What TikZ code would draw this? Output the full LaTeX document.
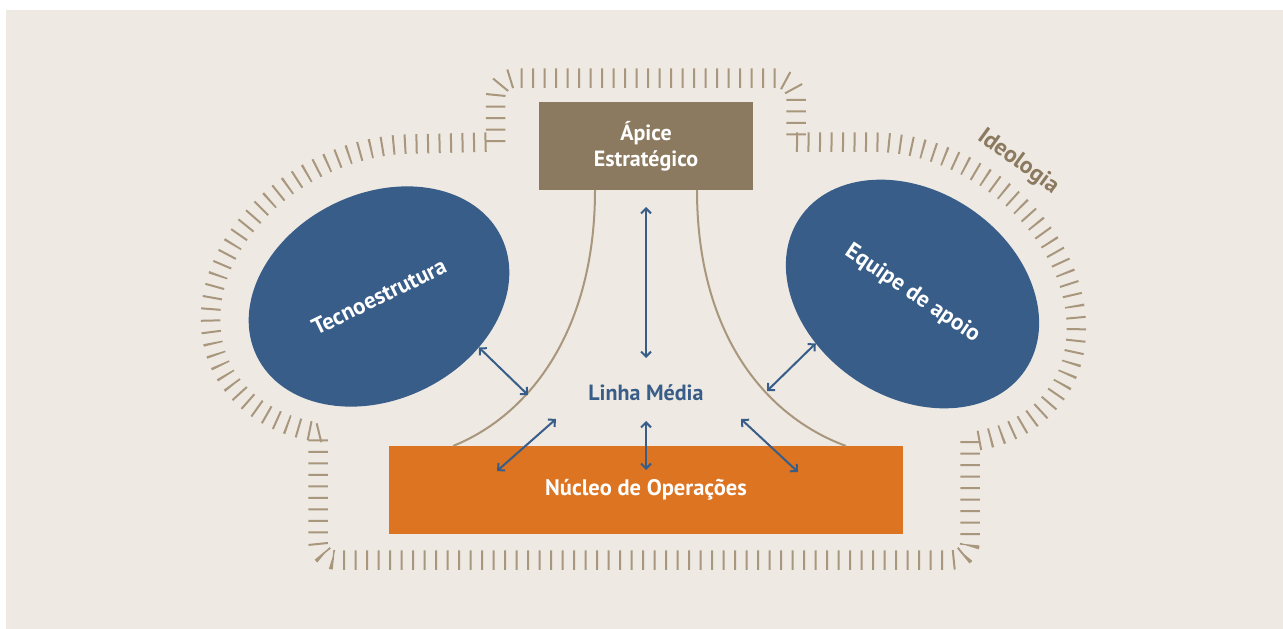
\documentclass[tikz,border=0pt]{standalone}
\usepackage{fontspec}
\setmainfont{PT Sans}
\usetikzlibrary{shapes.geometric,arrows.meta}

\definecolor{bgbeige}{HTML}{EEE9E3}
\definecolor{apicebrown}{HTML}{8B7A5F}
\definecolor{ideobrown}{HTML}{A8977D}
\definecolor{midblue}{HTML}{375D88}
\definecolor{opsorange}{HTML}{DD7421}

\tikzset{
	partbox/.style={rectangle, minimum width=#1, minimum height=88pt, inner sep=0pt, outer sep=0pt, text=white, align=center, font=\bfseries\fontsize{22}{26}\selectfont},
	partoval/.style={ellipse, fill=midblue, minimum width=272pt, minimum height=206pt, inner sep=0pt, outer sep=0pt, text=white, font=\bfseries\fontsize{23}{26}\selectfont},
	flow/.style={midblue, line width=2pt, {Straight Barb[length=5pt,width=10pt]}-{Straight Barb[length=5pt,width=10pt]}},
	rim/.style={ideobrown, line width=2pt},
	ideoband/.style={ideobrown, line width=19.5pt, dash pattern=on 2pt off 9.5pt},
}

\begin{document}
\begin{tikzpicture}[x=1pt,y=-1pt]
	\def\ra{176}	%long half axis of the ideology arcs
	\def\rb{136}	%short half axis of the ideology arcs
	\useasboundingbox (0,0) rectangle (1283,629);
	\fill[bgbeige] (6,10) rectangle (1283,629);

	%ideology band: thick dashed line gives the ticks
	\draw[ideoband, rounded corners=20pt] (495.5,142) -- (495.5,78) -- (796,78) -- (796,142);
	\draw[ideoband] (796,142) -- plot[domain=-132.2:41, samples=70, variable=\s]
		({912.5+\ra*cos(\s)*cos(35)-\rb*sin(\s)*sin(35)}, {292.5+\ra*cos(\s)*sin(35)+\rb*sin(\s)*cos(35)});	%round the support staff
	\draw[ideoband, rounded corners=18pt] (970,441) -- (970,560) -- (318,560) -- (318,433);
	\draw[ideoband] (318,433) -- plot[domain=-228:-56.6, samples=70, variable=\s]
		({379+\ra*cos(\s)*cos(27)+\rb*sin(\s)*sin(27)}, {289-\ra*cos(\s)*sin(27)+\rb*sin(\s)*cos(27)}) -- (495.5,142);	%round the technostructure

	\node[partbox=214pt, fill=apicebrown] (apice) at (646,146) {Ápice\\Estratégico};
	\node[partbox=514pt, fill=opsorange, font=\bfseries\fontsize{22.5}{26}\selectfont] (nucleo) at (646,490) {Núcleo de Operações};

	%middle line edges
	\draw[rim] ([xshift=-51pt]apice.south) .. controls +(0,140) and +(77,-31) .. ([xshift=-193pt]nucleo.north);
	\draw[rim] ([xshift=51pt]apice.south) .. controls +(0,140) and +(-84,-31) .. ([xshift=200pt]nucleo.north);

	\node[partoval, rotate=26] (tecno) at (379,296.5) {Tecnoestrutura};
	\node[partoval, rotate=-34] (equipe) at (912.5,294) {Equipe de apoio};
	\node[text=midblue, font=\bfseries\fontsize{22}{26}\selectfont] (linha) at (646,393) {Linha Média};
	\node[text=apicebrown, rotate=-36, font=\bfseries\fontsize{23.5}{26}\selectfont] (ideologia) at (1018,162) {Ideologia};

	\coordinate (lm-n) at (646,358);
	\coordinate (lm-w) at (528,395);
	\coordinate (lm-e) at (767,391);
	\coordinate (lm-sw) at (556,419);
	\coordinate (lm-s) at (646,421);
	\coordinate (lm-se) at (741,419);
	\coordinate (no-w) at (497,471);
	\coordinate (no-c) at (646,470);
	\coordinate (no-e) at (798,472);

	\draw[flow] ([yshift=-17pt]apice.south) -- (lm-n);
	\draw[flow] (tecno.-53) -- (lm-w);
	\draw[flow] (equipe.241) -- (lm-e);
	\draw[flow] (lm-sw) -- (no-w);
	\draw[flow] (lm-s) -- (no-c);
	\draw[flow] (lm-se) -- (no-e);
\end{tikzpicture}
\end{document}
